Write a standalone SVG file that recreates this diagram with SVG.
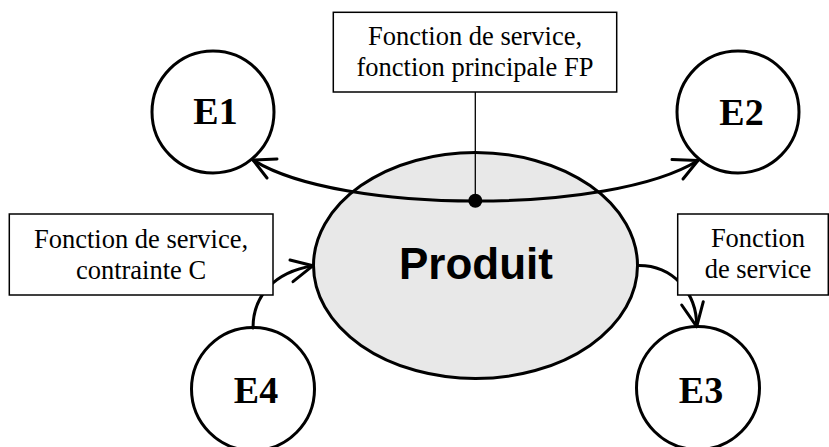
<svg xmlns="http://www.w3.org/2000/svg" width="829" height="447" viewBox="0 0 829 447">
  <style>
    .ent { fill: #ffffff; stroke: #000000; stroke-width: 3; }
    .ent-label { font-family: "Liberation Serif", "Times New Roman", serif; font-weight: bold; font-size: 38px; text-anchor: middle; fill: #000000; }
    .prod { fill: #e8e8e8; stroke: #000000; stroke-width: 3; }
    .prod-label { font-family: "Liberation Sans", Arial, sans-serif; font-weight: bold; font-size: 44px; text-anchor: middle; fill: #000000; }
    .wire { fill: none; stroke: #000000; stroke-width: 3; stroke-linecap: round; stroke-linejoin: round; }
    .leader { fill: none; stroke: #000000; stroke-width: 1.3; }
    .box { fill: #ffffff; stroke: #000000; stroke-width: 1.5; }
    .box-text { font-family: "Liberation Serif", "Times New Roman", serif; font-size: 26.5px; text-anchor: middle; fill: #000000; }
  </style>

  <!-- central product -->
  <g id="produit">
    <ellipse class="prod" cx="475.5" cy="265.5" rx="162" ry="113"/>
    <text class="prod-label" x="476" y="279">Produit</text>
  </g>

  <!-- external elements -->
  <g id="e1">
    <circle class="ent" cx="213" cy="112" r="61"/>
    <text class="ent-label" x="215.5" y="124">E1</text>
  </g>
  <g id="e2">
    <circle class="ent" cx="738" cy="112" r="61"/>
    <text class="ent-label" x="741.5" y="125">E2</text>
  </g>
  <g id="e4">
    <circle class="ent" cx="253" cy="389" r="61.5"/>
    <text class="ent-label" x="256" y="402.5">E4</text>
  </g>
  <g id="e3">
    <circle class="ent" cx="698" cy="388" r="61.5"/>
    <text class="ent-label" x="701" y="402.5">E3</text>
  </g>

  <!-- connectors -->
  <g id="connectors">
    <!-- FP: E1 <-> E2 through the product -->
    <path class="wire" d="M253,160 C340,214.7 611,214.7 698,160.5"/>
    <path class="wire" d="M277,159 L253,160 L267,178"/>
    <path class="wire" d="M672,159.5 L698,160.5 L683,179"/>
    <!-- C: E4 -> product -->
    <path class="wire" d="M253,328 C253,295 275,272 313,265.7"/>
    <path class="wire" d="M290,260 L313,265.7 L293,281.7"/>
    <!-- product -> E3 -->
    <path class="wire" d="M638,265.5 C672,265 697,292 696.7,326.7"/>
    <path class="wire" d="M681.7,305 L696.7,326.7 L703.3,301.7"/>
    <!-- leader from the FP label -->
    <line class="leader" x1="475.3" y1="92" x2="475.3" y2="201"/>
    <circle cx="475.3" cy="200.8" r="7" fill="#000000"/>
  </g>

  <!-- function labels -->
  <g id="label-fp">
    <rect class="box" x="333.3" y="12.3" width="283.4" height="79.7"/>
    <text class="box-text" x="475" y="44.5">Fonction de service,</text>
    <text class="box-text" x="475" y="75.5">fonction principale FP</text>
  </g>
  <g id="label-c">
    <rect class="box" x="9.3" y="214" width="263.7" height="81"/>
    <text class="box-text" x="141" y="248">Fonction de service,</text>
    <text class="box-text" x="141" y="279">contrainte C</text>
  </g>
  <g id="label-fs">
    <rect class="box" x="677.7" y="214" width="150.6" height="81"/>
    <text class="box-text" x="758" y="247">Fonction</text>
    <text class="box-text" x="758" y="278">de service</text>
  </g>
</svg>
